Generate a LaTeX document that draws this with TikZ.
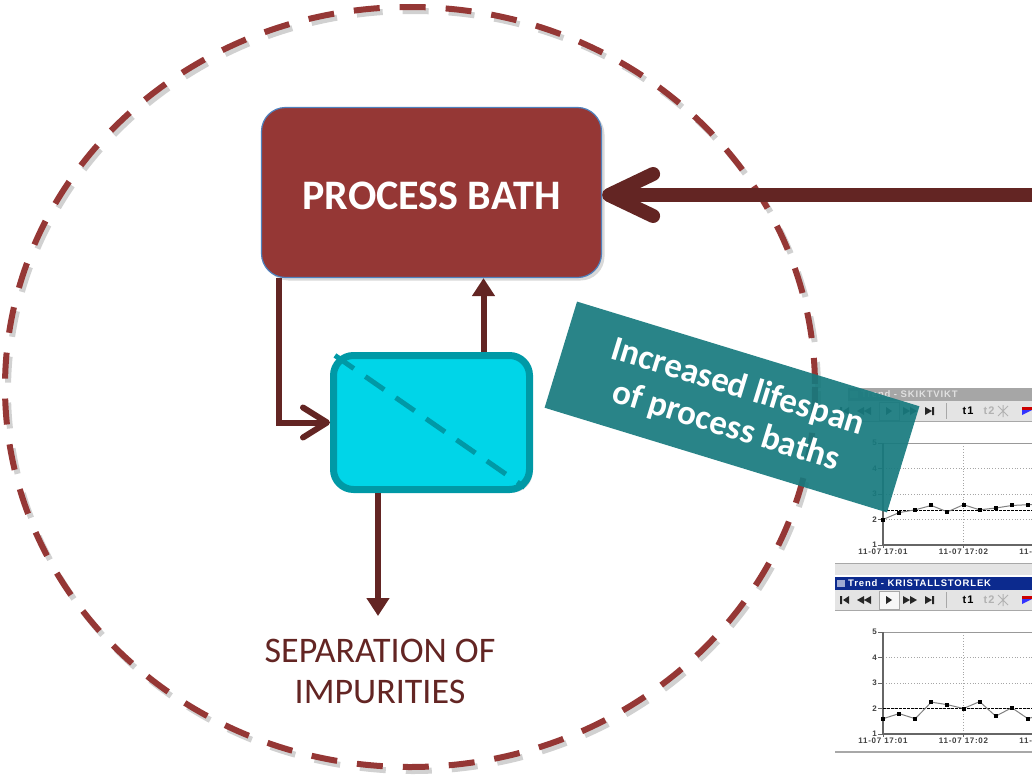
\documentclass[tikz,border=0pt]{standalone}
\usepackage{fontspec}
\setmainfont{Carlito}
\newfontfamily\chartfont[LetterSpace=9]{Liberation Sans}
\usetikzlibrary{arrows.meta,shadows}
\definecolor{BathRed}{HTML}{953735}
\definecolor{ArrowRed}{HTML}{632523}
\definecolor{FilterCyan}{HTML}{00D5E8}
\definecolor{FilterEdge}{HTML}{0099A6}
\definecolor{NoteTeal}{HTML}{177A7E}
\definecolor{OfficeBlue}{HTML}{4F81BD}
\definecolor{WinFace}{HTML}{E4E4E4}
\definecolor{WinLine}{HTML}{A8A8A8}
\definecolor{TitleBlue}{HTML}{0C2A8E}
\definecolor{TitleGray}{HTML}{A6A6A6}

% one trend window: #1 left edge, #2 top of title bar, #3 title fill, #4 title text,
% #5 title, #6 reference level, #7 data points (comma list)
\newcommand{\trendwindow}[7]{%
  \begin{scope}[shift={(0,#2)}]
    \fill[#3] (#1,0) rectangle (1040,13);
    \fill[#4!60!#3] (#1+2,3) rectangle (#1+10,10);
    \node[win title,text=#4] at (#1+13,6.5) {#5};
    \fill[WinFace] (#1,13) rectangle (1040,33);
    \draw[WinLine] (#1,33) -- (1040,33);
    \begin{scope}[shift={(0,23)}]
      \draw[WinLine,fill=white!70!WinFace] (879,-9) rectangle (899,9);
      \fill[black!85] (840,-4) rectangle (842,4) (849,-4) -- (843,0) -- (849,4) -- cycle;
      \fill[black!85] (864,-4) -- (857,0) -- (864,4) -- cycle (871,-4) -- (864,0) -- (871,4) -- cycle;
      \fill[black!85] (886,-4) -- (892,0) -- (886,4) -- cycle;
      \fill[black!85] (903,-4) -- (910,0) -- (903,4) -- cycle (910,-4) -- (917,0) -- (910,4) -- cycle;
      \fill[black!85] (925,-4) -- (932,0) -- (925,4) -- cycle (932,-4) rectangle (934,4);
      \draw[WinLine] (946,-8) -- (946,8);
      \node[tool text] at (968,0) {t1};
      \node[tool text,text=black!30] at (989,0) {t2};
      \draw[black!30,line width=1pt] (998,-5) -- (1008,5) (998,5) -- (1008,-5) (1003,-6) -- (1003,6);
      \fill[red!80!black] (1022,-4) rectangle (1032,-1);
      \fill[blue!80] (1022,-1) -- (1032,-1) -- (1022,4) -- cycle;
    \end{scope}
    \begin{scope}[shift={(883,157)},x=16.1pt,y=25.5pt]
      \foreach \v in {1,2,3}
        \draw[black!35,dotted,line width=0.8pt] (0,\v) -- (10,\v);
      \draw[black!35,dotted,line width=0.8pt] (5,0) -- (5,4);
      \draw[black!40,line width=0.8pt] (0,4) -- (10,4);
      \draw[black!60,line width=1.2pt] (0,4) -- (0,0) -- (10,0);
      \foreach \v in {1,...,5}
        \draw[black!60,line width=0.8pt] (-0.3,\v-1) -- (0,\v-1) node[axis text,left=1pt] at (-0.3,\v-1) {\v};
      \foreach \t/\s in {0/1,5/2,10/3}
        \draw[black!60,line width=0.8pt] (\t,0) -- (\t,-0.12) node[axis text,below=0pt] {11-07 17:0\s};
      \draw[black,line width=0.8pt,dash pattern=on 2.5pt off 1.5pt] (0,#6) -- (10,#6);
      \foreach \p [remember=\p as \q (initially {})] in {#7}{
        \ifx\q\empty\else\draw[black!50,line width=1pt] \q -- \p;\fi
      }
      \foreach \p in {#7}
        \fill[black] \p ++(-2pt,-2pt) rectangle ++(4pt,4pt);
    \end{scope}
  \end{scope}
}

\begin{document}
\begin{tikzpicture}[x=1pt,y=-1pt,
  win title/.style={anchor=west,inner sep=0pt,font=\chartfont\bfseries\fontsize{9.5}{10}\selectfont},
  tool text/.style={inner sep=0pt,font=\chartfont\bfseries\fontsize{11}{12}\selectfont},
  axis text/.style={inner sep=0pt,text=black!75,font=\chartfont\bfseries\fontsize{8}{9}\selectfont},
  bathbox/.style={draw=OfficeBlue,line width=1.2pt,fill=BathRed,rounded corners=24pt,
    minimum width=340pt,minimum height=170pt,text=white,
    font=\bfseries\fontsize{42}{48}\selectfont,
    drop shadow={opacity=0.3,shadow xshift=3pt,shadow yshift=-3pt}},
  filterbox/.style={draw=FilterEdge,line width=7pt,fill=FilterCyan,rounded corners=20pt,
    minimum width=196pt,minimum height=134pt,
    drop shadow={opacity=0.3,shadow xshift=3pt,shadow yshift=-3pt}},
  notebox/.style={fill=NoteTeal,fill opacity=0.92,text opacity=1,text=white,rotate=-17,
    minimum width=358pt,minimum height=111pt,align=center,
    font=\bfseries\fontsize{35}{41}\selectfont},
  sep text/.style={text=ArrowRed,align=center,font=\fontsize{36}{41}\selectfont},
  flow/.style={ArrowRed,line width=6pt},
  barb/.style={-{Straight Barb[length=24pt,width=30pt,line cap=round,line join=round]}},
  head/.style={-{Triangle[length=18pt,width=22pt]}},
  ring/.style={line width=6pt,dash pattern=on 26pt off 20pt}]

\useasboundingbox (0,0) rectangle (1032,776);
\clip (0,0) rectangle (1032,776);

% trend screenshots
\trendwindow{848}{388}{TitleGray}{white!88!black}{Trend - SKIKTVIKT}{1.35}%
  {(0,1.0),(1,1.27),(2,1.38),(3,1.55),(4,1.3),(5,1.58),(6,1.38),(7,1.45),(8,1.55),(9,1.58),(10,1.6)}
\fill[WinFace] (835,563) rectangle (1040,575);
\draw[WinLine] (835,563) -- (1040,563);
\trendwindow{835}{577}{TitleBlue}{white}{Trend - KRISTALLSTORLEK}{1.0}%
  {(0,0.6),(1,0.8),(2,0.6),(3,1.25),(4,1.15),(5,1.0),(6,1.27),(7,0.7),(8,1.03),(9,0.6),(10,0.8)}
\draw[WinLine,line width=1.5pt] (835,752) -- (1040,752);

% dashed boundary
\draw[ring,black,opacity=0.18] (413,391) ellipse [x radius=405, y radius=380];
\draw[ring,BathRed] (410,387) ellipse [x radius=405, y radius=380];

% boxes
\node[bathbox] (bath) at (431.5,192.5) {\raisebox{-17pt}[0pt][0pt]{PROCESS BATH}};
\node[filterbox] (filter) at (431.5,422.5) {};
\draw[FilterEdge,line width=5pt,dash pattern=on 23pt off 14pt,shorten <=6pt,shorten >=10pt]
  (filter.north west) -- (filter.south east);

% connectors
\coordinate (feed) at (1040,195);
\draw[ArrowRed,line width=14pt,-{Straight Barb[length=44pt,width=42pt,line cap=round,line join=round]}]
  (feed) -- (feed -| bath.east);
\draw[flow,barb] ([xshift=18pt]bath.south west) |- (filter.west);
\draw[flow,head] ([xshift=52pt]filter.north) -- ([xshift=52pt]filter.north |- bath.south);
\coordinate (drain) at (378,616);
\draw[flow,head] (filter.south -| drain) -- (drain);
\node[sep text] (sep) at (380,671) {SEPARATION OF\\IMPURITIES};

% benefit note
\node[notebox] (note) at (732,407) {Increased lifespan\\of process baths};
\end{tikzpicture}
\end{document}
